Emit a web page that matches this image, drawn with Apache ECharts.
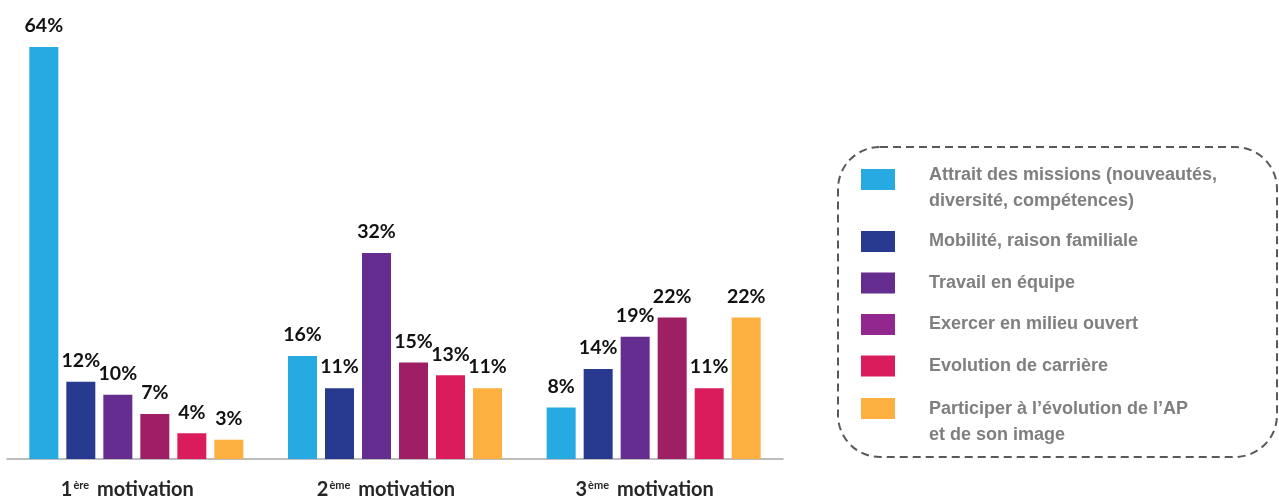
<!DOCTYPE html>
<html>
<head>
<meta charset="utf-8">
<script src="https://cdn.jsdelivr.net/npm/echarts@6/dist/echarts.min.js"></script>
<style>
html,body{margin:0;padding:0;background:#fff;}
#chart{width:1279px;height:497px;}
</style>
</head>
<body>
<div id="chart"></div>
<script>
const categories = ['1ère motivation', '2ème motivation', '3ème motivation'];
const seriesNames = [
  'Attrait des missions (nouveautés, diversité, compétences)',
  'Mobilité, raison familiale',
  'Travail en équipe',
  'Exercer en milieu ouvert',
  'Evolution de carrière',
  'Participer à l’évolution de l’AP et de son image'
];
const attrait = [64, 16, 8];
const mobilite = [12, 11, 14];
const travail = [10, 32, 19];
const exercer = [7, 15, 22];
const evolution = [4, 13, 11];
const participer = [3, 11, 22];
const values = [attrait, mobilite, travail, exercer, evolution, participer];

const barColors = ['#27AAE1', '#283A8F', '#652D90', '#9E1F63', '#DA1C5C', '#FBB040'];
const legendColors = ['#27AAE1', '#283A8F', '#652D90', '#92278F', '#DA1C5C', '#FBB040'];

const chart = echarts.init(document.getElementById('chart'), null, {renderer: 'canvas'});

const tStyle = {
  fontFamily: '"Liberation Sans Narrow", "Liberation Sans", Arial, sans-serif',
  fontWeight: 'bold',
  fontSize: 18,
  lineHeight: 26,
  color: '#7F7F7F'
};
function legendFormatter(name) {
  const i = seriesNames.indexOf(name);
  if (i === 0) {
    return '{g1| }\n{t|Attrait des missions (nouveautés,}\n{t|diversité, compétences)}';
  }
  if (i === 5) {
    return '{g6| }\n{t|Participer à l’évolution de l’AP}\n{t|et de son image}';
  }
  return '{t|' + name + '}';
}
const legendTextStyle = {
  padding: [0, 0, 0, 29],
  fontFamily: tStyle.fontFamily,
  fontWeight: 'bold',
  fontSize: 18,
  color: '#7F7F7F',
  rich: {
    t: tStyle,
    g1: {fontSize: 10, lineHeight: 18},
    g6: {fontSize: 10, lineHeight: 28}
  }
};
function legendItem(i) {
  return {name: seriesNames[i], itemStyle: {color: legendColors[i]}};
}

const series = seriesNames.map((name, i) => ({
  name: name,
  type: 'bar',
  data: values[i],
  barWidth: 29,
  barGap: '27.6%',
  itemStyle: {color: barColors[i]},
  label: {
    show: true,
    position: 'top',
    distance: 11,
    formatter: '{c}%',
    fontFamily: 'Lato, "Open Sans", sans-serif',
    fontWeight: 'bold',
    fontSize: 19.5,
    color: '#111'
  }
}));

const option = {
  animation: false,
  backgroundColor: '#fff',
  grid: {left: 7, right: 496, top: 47, bottom: 38, containLabel: false, outerBoundsMode: 'none'},
  xAxis: {
    type: 'category',
    data: categories,
    axisTick: {show: false},
    axisLine: {show: true, lineStyle: {color: '#A6A6A6', width: 1.5}},
    axisLabel: {
      margin: 19,
      interval: 0,
      padding: [0, 18, 0, 0],
      formatter: function (v) {
        const m = v.match(/^(\d)(\S+)\s(.+)$/);
        return '{n|' + m[1] + '}{s|' + m[2] + '}{m| ' + m[3] + '}';
      },
      rich: {
        n: {fontFamily: 'Lato, sans-serif', fontWeight: 'bold', fontSize: 20, color: '#262626', lineHeight: 24},
        s: {fontFamily: 'Lato, sans-serif', fontWeight: 'bold', fontSize: 11, color: '#262626', verticalAlign: 'top', lineHeight: 24, padding: [2, 3, 0, 1]},
        m: {fontFamily: 'Lato, sans-serif', fontWeight: 'bold', fontSize: 20, color: '#262626', lineHeight: 24}
      }
    }
  },
  yAxis: {
    type: 'value',
    min: 0,
    max: 64,
    show: false,
    splitLine: {show: false}
  },
  legend: [
    {
      orient: 'vertical',
      left: 861,
      top: 148.5,
      padding: 0,
      icon: 'rect',
      itemWidth: 34,
      itemHeight: 21,
      itemGap: 20.5,
      selectedMode: false,
      formatter: legendFormatter,
      textStyle: legendTextStyle,
      data: [legendItem(0), legendItem(1), legendItem(2), legendItem(3), legendItem(4)]
    },
    {
      orient: 'vertical',
      left: 861,
      top: 377.5,
      padding: 0,
      icon: 'rect',
      itemWidth: 34,
      itemHeight: 21,
      selectedMode: false,
      formatter: legendFormatter,
      textStyle: legendTextStyle,
      data: [legendItem(5)]
    }
  ],
  graphic: [
    {
      type: 'rect',
      z: -10,
      shape: {x: 838, y: 147, width: 439, height: 310, r: 42},
      style: {fill: 'none', stroke: '#595959', lineWidth: 2, lineDash: [8, 5]},
      silent: true
    }
  ],
  series: series
};
chart.setOption(option);
</script>
</body>
</html>
